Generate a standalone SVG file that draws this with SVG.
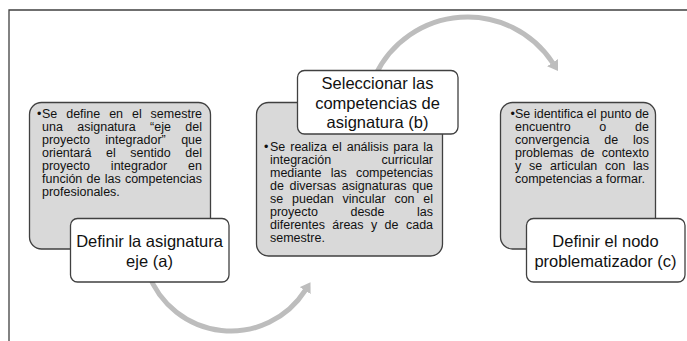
<svg xmlns="http://www.w3.org/2000/svg" width="687" height="341" viewBox="0 0 687 341">
<defs>
<style>
.frame{fill:none;stroke:#404040;stroke-width:1.3}
.panel{fill:#d9d9d9;stroke:#404040;stroke-width:1.3}
.label{fill:#ffffff;stroke:#404040;stroke-width:1.3}
.body{font-family:"Liberation Sans",Arial,sans-serif;font-size:12.5px;fill:#111}
.title{font-family:"Liberation Sans",Arial,sans-serif;font-size:16.5px;fill:#111;text-anchor:middle}
.arc{fill:none;stroke:#bdbdbd;stroke-width:5}
</style>
<marker id="ah" markerUnits="userSpaceOnUse" viewBox="0 0 10 13" markerWidth="10" markerHeight="13" refX="0.5" refY="6.5" orient="auto">
<path d="M0,0 L10,6.5 L0,13 z" fill="#bdbdbd"/>
</marker>
</defs>
<rect x="0" y="0" width="687" height="341" fill="#ffffff"/>
<path class="frame" d="M9,341 V10 H687"/>
<g id="connectors">
<path class="arc" d="M148.1,273 A88.2,88.2 0 0 0 305.4,290.2" marker-end="url(#ah)"/>
<path class="arc" d="M375.1,75.9 A102,102 0 0 1 552.8,63" marker-end="url(#ah)"/>
</g>
<g id="node-a">
<rect class="panel" x="29.5" y="102.5" width="181" height="146.5" rx="12"/>
<text class="body" x="37" y="118">•</text>
<text class="body" x="42" y="118" word-spacing="5.43">Se define en el semestre</text>
<text class="body" x="42" y="131" word-spacing="10.93">una asignatura “eje del</text>
<text class="body" x="42" y="144" word-spacing="11.9">proyecto integrador” que</text>
<text class="body" x="42" y="157" word-spacing="11.17">orientará el sentido del</text>
<text class="body" x="42" y="170" word-spacing="17.45">proyecto integrador en</text>
<text class="body" x="42" y="183" word-spacing="0.77">función de las competencias</text>
<text class="body" x="42" y="196">profesionales.</text>
<rect class="label" x="70.5" y="218.5" width="158.5" height="63.5" rx="7"/>
<text class="title" x="149.5" y="247">Definir la asignatura</text>
<text class="title" x="149.5" y="267">eje (a)</text>
</g>
<g id="node-b">
<rect class="panel" x="256.5" y="102.5" width="186" height="153.5" rx="12"/>
<text class="body" x="264" y="151">•</text>
<text class="body" x="270" y="151" word-spacing="1.48">Se realiza el análisis para la</text>
<text class="body" x="270" y="164" word-spacing="47">integración curricular</text>
<text class="body" x="270" y="177" word-spacing="5.78">mediante las competencias</text>
<text class="body" x="270" y="190" word-spacing="2.23">de diversas asignaturas que</text>
<text class="body" x="270" y="203" word-spacing="5.33">se puedan vincular con el</text>
<text class="body" x="270" y="216" word-spacing="29.05">proyecto desde las</text>
<text class="body" x="270" y="229" word-spacing="3.93">diferentes áreas y de cada</text>
<text class="body" x="270" y="242">semestre.</text>
<rect class="label" x="297.5" y="70.5" width="160.5" height="63.5" rx="7"/>
<text class="title" x="377.5" y="89">Seleccionar las</text>
<text class="title" x="377.5" y="108.5">competencias de</text>
<text class="title" x="377.5" y="128">asignatura (b)</text>
</g>
<g id="node-c">
<rect class="panel" x="500.5" y="102.5" width="155" height="146.5" rx="12"/>
<text class="body" x="510.5" y="118">•</text>
<text class="body" x="515" y="118" word-spacing="0.15">Se identifica el punto de</text>
<text class="body" x="515" y="131" word-spacing="25.3">encuentro o de</text>
<text class="body" x="515" y="144" word-spacing="11.4">convergencia de los</text>
<text class="body" x="515" y="157" word-spacing="3.75">problemas de contexto</text>
<text class="body" x="515" y="170" word-spacing="4.33">y se articulan con las</text>
<text class="body" x="515" y="183">competencias a formar.</text>
<rect class="label" x="526.5" y="218.5" width="158.5" height="63.5" rx="7"/>
<text class="title" x="605.5" y="247">Definir el nodo</text>
<text class="title" x="605.5" y="267">problematizador (c)</text>
</g>
</svg>
